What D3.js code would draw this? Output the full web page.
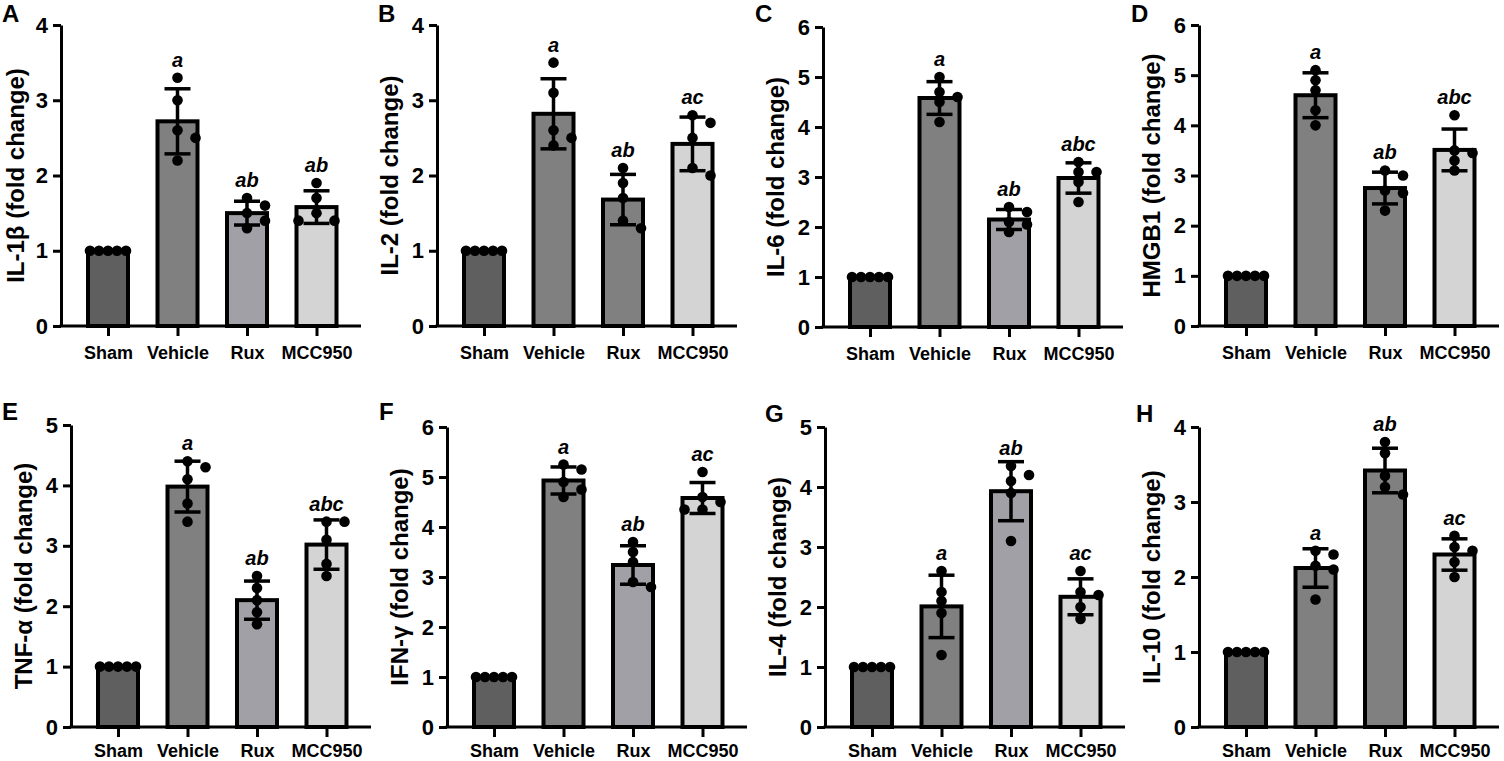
<!DOCTYPE html>
<html>
<head>
<meta charset="utf-8">
<script src="https://cdn.jsdelivr.net/npm/d3@7"></script>
<style>
body { margin: 0; background: #fff; }
svg { display: block; }
text { font-family: "Liberation Sans", Arial, sans-serif; font-weight: bold; fill: #000; }
</style>
</head>
<body>
<svg id="chart" width="1504" height="761"></svg>
<script>
// groups and panel texts
var groups = ["Sham", "Vehicle", "Rux", "MCC950"];
var panelIds = ["A", "B", "C", "D", "E", "F", "G", "H"];
var yTitles = ["IL-1β (fold change)", "IL-2 (fold change)", "IL-6 (fold change)", "HMGB1 (fold change)",
	"TNF-α (fold change)", "IFN-γ (fold change)", "IL-4 (fold change)", "IL-10 (fold change)"];
var yMax = [4, 4, 6, 6, 5, 6, 5, 4];

// individual points (fold change), one list per group
var sham = [1, 1, 1, 1, 1];
var il1b = [sham, [3.3, 3.0, 2.6, 2.5, 2.2], [1.7, 1.6, 1.5, 1.4, 1.3], [1.9, 1.7, 1.5, 1.4, 1.4]];
var il2 = [sham, [3.5, 3.1, 2.6, 2.5, 2.4], [2.1, 1.9, 1.7, 1.4, 1.3], [2.8, 2.7, 2.5, 2.1, 2.0]];
var il6 = [sham, [5.0, 4.7, 4.6, 4.5, 4.1], [2.4, 2.3, 2.1, 2.05, 1.9], [3.3, 3.1, 3.1, 2.9, 2.5]];
var hmgb1 = [sham, [5.1, 4.9, 4.7, 4.3, 4.0], [3.1, 3.0, 2.7, 2.65, 2.3], [4.2, 3.5, 3.45, 3.3, 3.1]];
var tnfa = [sham, [4.4, 4.3, 4.1, 3.7, 3.4], [2.5, 2.3, 2.1, 1.9, 1.7], [3.4, 3.4, 3.1, 2.7, 2.5]];
var ifng = [sham, [5.25, 5.15, 4.9, 4.75, 4.6], [3.7, 3.5, 3.3, 2.9, 2.8], [5.1, 4.6, 4.5, 4.35, 4.35]];
var il4 = [sham, [2.6, 2.25, 2.1, 1.9, 1.2], [4.35, 4.2, 4.1, 3.9, 3.1], [2.6, 2.25, 2.2, 2.0, 1.8]];
var il10 = [sham, [2.35, 2.3, 2.15, 2.1, 1.7], [3.8, 3.65, 3.35, 3.2, 3.1], [2.55, 2.4, 2.35, 2.2, 2.0]];
var panelPoints = [il1b, il2, il6, hmgb1, tnfa, ifng, il4, il10];

// significance letters
var sigLetters = [
	["", "a", "ab", "ab"], ["", "a", "ab", "ac"], ["", "a", "ab", "abc"], ["", "a", "ab", "abc"],
	["", "a", "ab", "abc"], ["", "a", "ab", "ac"], ["", "a", "ab", "ac"], ["", "a", "ab", "ac"]
];

// layout
var layout = [
	{ax: 61, top: 25, bottom: 326, lx: 2, ly: 22, pad: 10, tx: 37},
	{ax: 437, top: 25, bottom: 326, lx: 378, ly: 22, pad: 10, tx: 39},
	{ax: 823, top: 27, bottom: 327, lx: 755, ly: 22, pad: 10, tx: 39},
	{ax: 1199, top: 25, bottom: 326, lx: 1131, ly: 22, pad: 10, tx: 39},
	{ax: 71, top: 425, bottom: 727, lx: 2, ly: 420, pad: 7, tx: 39},
	{ax: 447, top: 427, bottom: 727, lx: 379, ly: 420, pad: 7, tx: 39},
	{ax: 825, top: 427, bottom: 727, lx: 765, ly: 422, pad: 7, tx: 39},
	{ax: 1199, top: 427, bottom: 727, lx: 1136, ly: 422, pad: 7, tx: 39}
];
var fillsLight = ["#5f5f5f", "#808080", "#a0a0a6", "#d4d4d4"];
var fillsDark = ["#5f5f5f", "#808080", "#808080", "#d4d4d4"];
var darkRux = {B: true, D: true, H: true};

var svg = d3.select("#chart");

function swarm(vals, y) {
	var placed = [];
	var offsets = [0, 18, -18, 9, -9, 27, -27];
	var order = vals.map(function(v, i) { return i; })
		.sort(function(a, b) { return vals[b] - vals[a]; });
	order.forEach(function(i) {
		var py = y(vals[i]);
		for (var k = 0; k < offsets.length; k++) {
			var dx = offsets[k];
			var ok = placed.every(function(p) {
				return Math.hypot(p.dx - dx, p.py - py) >= 9;
			});
			if (ok) {
				placed.push({dx: dx, py: py, v: vals[i]});
				break;
			}
		}
	});
	return placed;
}

panelIds.forEach(function(id, p) {
	var L = layout[p];
	var g = svg.append("g");
	var fills = darkRux[id] ? fillsDark : fillsLight;

	var y = d3.scaleLinear().domain([0, yMax[p]]).range([L.bottom, L.top]);
	var x = d3.scalePoint().domain(groups).range([L.ax + 47, L.ax + 47 + 3 * 69.5]);

	var stats = groups.map(function(name, i) {
		var v = panelPoints[p][i];
		return {
			name: name, i: i, vals: v,
			mean: d3.mean(v),
			sd: d3.deviation(v) || 0,
			letter: sigLetters[p][i]
		};
	});

	// bars
	g.selectAll("rect.bar")
		.data(stats)
		.enter()
		.append("rect")
		.attr("class", "bar")
		.attr("x", function(d) { return x(d.name) - 20; })
		.attr("width", 40)
		.attr("y", function(d) { return y(d.mean); })
		.attr("height", function(d) { return y(0) - y(d.mean); })
		.attr("fill", function(d) { return fills[d.i]; })
		.attr("stroke", "#000")
		.attr("stroke-width", 4);

	// error bars (mean ± SD)
	var err = g.selectAll("g.err")
		.data(stats.filter(function(d) { return d.sd > 0; }))
		.enter()
		.append("g")
		.attr("class", "err")
		.attr("stroke", "#000")
		.attr("stroke-width", 3.5);
	err.append("line")
		.attr("x1", function(d) { return x(d.name); })
		.attr("x2", function(d) { return x(d.name); })
		.attr("y1", function(d) { return y(d.mean - d.sd); })
		.attr("y2", function(d) { return y(d.mean + d.sd); });
	[-1, 1].forEach(function(s) {
		err.append("line")
			.attr("x1", function(d) { return x(d.name) - 13; })
			.attr("x2", function(d) { return x(d.name) + 13; })
			.attr("y1", function(d) { return y(d.mean + s * d.sd); })
			.attr("y2", function(d) { return y(d.mean + s * d.sd); });
	});

	// points
	stats.forEach(function(d) {
		g.selectAll(null)
			.data(swarm(d.vals, y))
			.enter()
			.append("circle")
			.attr("cx", function(q) { return x(d.name) + q.dx; })
			.attr("cy", function(q) { return q.py; })
			.attr("r", 5.3)
			.attr("fill", "#000");
	});

	// significance letters
	g.selectAll("text.sig")
		.data(stats)
		.enter()
		.append("text")
		.attr("class", "sig")
		.attr("x", function(d) { return x(d.name); })
		.attr("y", function(d) {
			var top = Math.min(y(d.mean + d.sd), y(d3.max(d.vals)) - 5);
			return top - 6;
		})
		.attr("text-anchor", "middle")
		.attr("font-size", "20px")
		.style("font-style", "italic")
		.text(function(d) { return d.letter; });

	// y axis
	var yAxis = g.append("g")
		.attr("transform", "translate(" + L.ax + ",0)")
		.call(d3.axisLeft(y).ticks(yMax[p]).tickSize(8).tickSizeOuter(0).tickPadding(5));
	yAxis.select(".domain").attr("stroke-width", 3);
	yAxis.selectAll(".tick line").attr("stroke-width", 3);
	yAxis.selectAll(".tick text").attr("font-size", "22px").attr("font-family", null);

	// x axis
	var xAxis = g.append("g")
		.attr("transform", "translate(0," + L.bottom + ")")
		.call(d3.axisBottom(x).tickSize(10).tickPadding(L.pad));
	xAxis.select(".domain").remove();
	xAxis.selectAll(".tick line").attr("stroke-width", 3);
	xAxis.selectAll(".tick text").attr("font-size", "18px").attr("font-family", null);
	g.append("line")
		.attr("x1", L.ax - 1.5)
		.attr("x2", L.ax + 300)
		.attr("y1", L.bottom)
		.attr("y2", L.bottom)
		.attr("stroke", "#000")
		.attr("stroke-width", 3);

	// y title
	g.append("text")
		.attr("transform", "translate(" + (L.ax - L.tx) + "," + ((L.top + L.bottom) / 2) + ") rotate(-90)")
		.attr("text-anchor", "middle")
		.attr("font-size", "24px")
		.text(yTitles[p]);

	// panel letter
	g.append("text")
		.attr("x", L.lx)
		.attr("y", L.ly)
		.attr("font-size", "24px")
		.text(id);
});
</script>
</body>
</html>
